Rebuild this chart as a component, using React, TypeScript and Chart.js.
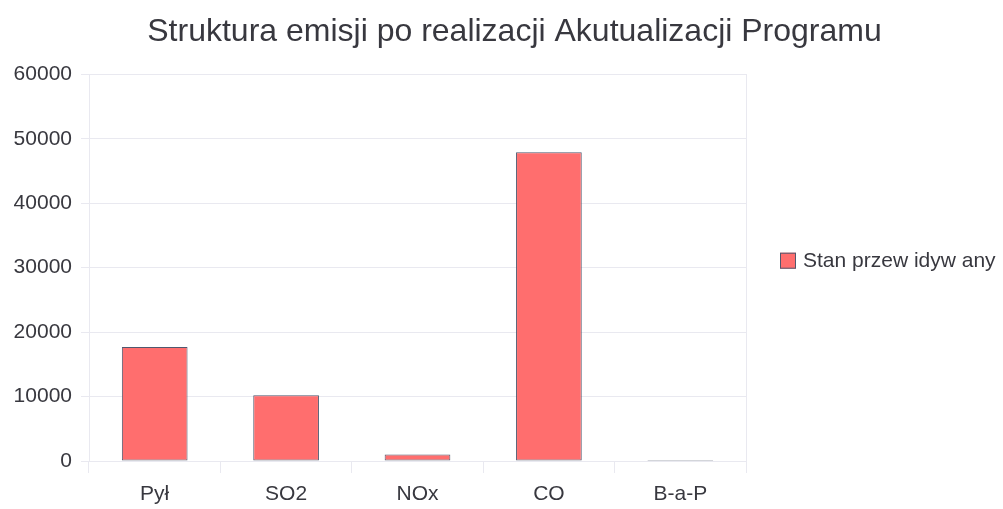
import React, { useEffect, useRef } from "react";
import { Chart, registerables } from "chart.js";

Chart.register(...registerables);

const TITLE = "Struktura emisji po realizacji Akutualizacji Programu";
const categories = ["Pył", "SO2", "NOx", "CO", "B-a-P"];
const seriesLabel = "Stan przew idyw any";
const seriesValues = [17700, 10200, 1000, 47900, 150];
const yTicks = [0, 10000, 20000, 30000, 40000, 50000, 60000];

const FONT = "'Liberation Sans', Arial, sans-serif";
const TEXT = "#38383f";
const FILL = "#ff6e6e";
const EDGE = "#50586e";
const GRID = "#e9e9f0";

const framePlugin = {
  id: "frameAndLegend",
  afterLayout(chart: any) {
    if (chart.titleBlock) {
      chart.titleBlock.left += 26;
    }
  },
  beforeDatasetsDraw(chart: any) {
    const { ctx, chartArea } = chart;
    ctx.save();
    ctx.strokeStyle = GRID;
    ctx.lineWidth = 1;
    ctx.strokeRect(
      Math.round(chartArea.left) + 0.5,
      Math.round(chartArea.top) + 0.5,
      Math.round(chartArea.right - chartArea.left),
      Math.round(chartArea.bottom - chartArea.top)
    );
    ctx.restore();
  },
  afterDraw(chart: any) {
    const { ctx, chartArea } = chart;
    const ds = chart.data.datasets[0];
    const midY = (chartArea.top + chartArea.bottom) / 2 - 7;
    const x = chartArea.right + 34;
    ctx.save();
    ctx.fillStyle = ds.backgroundColor;
    ctx.strokeStyle = ds.borderColor;
    ctx.lineWidth = 1;
    ctx.fillRect(x, midY - 8, 16, 16);
    ctx.strokeRect(x + 0.5, midY - 7.5, 15, 15);
    ctx.fillStyle = TEXT;
    ctx.font = `21px ${FONT}`;
    ctx.textBaseline = "middle";
    ctx.textAlign = "left";
    ctx.fillText(ds.label, x + 23, midY + 1);
    ctx.restore();
  },
};

export default function App() {
  const ref = useRef<HTMLCanvasElement | null>(null);

  useEffect(() => {
    if (!ref.current) return;
    const chart = new Chart(ref.current, {
      type: "bar",
      data: {
        labels: categories,
        datasets: [
          {
            label: seriesLabel,
            data: seriesValues,
            backgroundColor: FILL,
            borderColor: EDGE,
            borderWidth: 1,
            borderSkipped: false,
            barPercentage: 0.5,
            categoryPercentage: 1,
          },
        ],
      },
      options: {
        animation: false,
        responsive: false,
        maintainAspectRatio: false,
        layout: { padding: { left: 0, right: 0, top: 0, bottom: 2 } },
        plugins: {
          legend: { display: false },
          tooltip: { enabled: false },
          title: {
            display: true,
            text: TITLE,
            align: "center",
            color: TEXT,
            font: { family: FONT, size: 32, weight: "normal" },
            padding: { top: 13, bottom: 23 },
          },
        },
        scales: {
          x: {
            offset: true,
            afterFit(scale: any) {
              scale.height = 46;
            },
            grid: {
              offset: true,
              drawOnChartArea: false,
              color: GRID,
              tickLength: 12,
            },
            border: { display: true, color: GRID },
            ticks: {
              color: TEXT,
              padding: 9,
              font: { family: FONT, size: 21 },
            },
          },
          y: {
            min: 0,
            max: 60000,
            afterFit(scale: any) {
              scale.width = 89;
            },
            afterBuildTicks(scale: any) {
              scale.ticks = yTicks.map((v) => ({ value: v }));
            },
            grid: { color: GRID, tickLength: 8 },
            border: { display: true, color: GRID },
            ticks: {
              color: TEXT,
              padding: 9,
              font: { family: FONT, size: 21 },
              callback: (v: any) => String(v),
            },
          },
          legendSpace: {
            type: "linear",
            position: "right",
            display: true,
            afterFit(scale: any) {
              scale.width = 257;
            },
            grid: { display: false, drawTicks: false },
            border: { display: false },
            ticks: { display: false },
          },
        },
      },
      plugins: [framePlugin],
    });
    return () => chart.destroy();
  }, []);

  return (
    <div style={{ position: "fixed", left: 0, top: 0, width: 1003, height: 509, background: "#fff" }}>
      <canvas ref={ref} width={1003} height={509} style={{ width: 1003, height: 509 }} />
    </div>
  );
}
